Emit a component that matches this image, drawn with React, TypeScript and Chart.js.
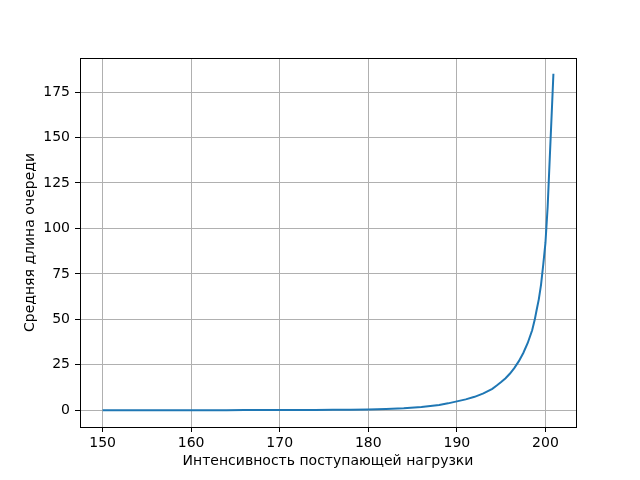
import React, { useEffect, useRef } from "react";
import { Chart, registerables } from "chart.js";

Chart.register(...registerables);

const lambdaValues: number[] = [
  150, 152, 154, 156, 158, 160, 162, 164, 166, 168, 170, 172, 174, 176, 178, 180,
  182, 184, 186, 187, 188, 189, 190, 191, 192, 193, 194, 194.5, 195, 195.5, 196, 196.5,
  197, 197.5, 198, 198.5, 198.8, 199, 199.25, 199.5, 199.75, 200, 200.25, 200.5,
  200.75, 200.9,
];
const queueLength: number[] = [
  0.01, 0.015, 0.02, 0.03, 0.04, 0.05, 0.06, 0.07, 0.09, 0.1, 0.12, 0.15, 0.18, 0.23, 0.32, 0.45,
  0.7, 1.1, 1.8, 2.3, 2.9, 3.8, 4.9, 6.0, 7.4, 9.3, 11.8, 13.6, 15.5, 17.6, 20.2, 23.3,
  27, 31.5, 37, 44, 50, 55, 61, 69, 80, 92, 112, 140,
  168, 185,
];
const xTicks: number[] = [150, 160, 170, 180, 190, 200];
const yTicks: number[] = [0, 25, 50, 75, 100, 125, 150, 175];

const xTitle = "Интенсивность поступающей нагрузки";
const yTitle = "Средняя длина очереди";

const FONT = "'DejaVu Sans', sans-serif";

const framePlugin = {
  id: "frame",
  afterDraw(chart: any) {
    const { ctx, chartArea } = chart;
    ctx.save();
    ctx.strokeStyle = "#000";
    ctx.lineWidth = 1;
    ctx.strokeRect(
      Math.round(chartArea.left) + 0.5,
      Math.round(chartArea.top) + 0.5,
      Math.round(chartArea.right - chartArea.left),
      Math.round(chartArea.bottom - chartArea.top)
    );
    ctx.restore();
  },
};

export default function App() {
  const ref = useRef<HTMLCanvasElement>(null);

  useEffect(() => {
    if (!ref.current) return;
    const points = lambdaValues.map((x, i) => ({ x, y: queueLength[i] }));
    const chart = new Chart(ref.current, {
      type: "line",
      data: {
        datasets: [
          {
            data: points,
            borderColor: "#1f77b4",
            borderWidth: 2,
            pointRadius: 0,
            fill: false,
            tension: 0,
          },
        ],
      },
      options: {
        responsive: false,
        animation: false,
        devicePixelRatio: 1,
        layout: { padding: { left: 0, top: 58, right: 64, bottom: 0 } },
        plugins: {
          legend: { display: false },
          tooltip: { enabled: false },
        },
        scales: {
          x: {
            type: "linear",
            min: 147.45,
            max: 203.45,
            afterBuildTicks: (scale: any) => {
              scale.ticks = xTicks.map((v) => ({ value: v }));
            },
            afterFit: (scale: any) => {
              scale.height = 53;
            },
            grid: {
              color: "#b0b0b0",
              lineWidth: 1,
              drawTicks: true,
              tickLength: 5,
              tickColor: "#000",
            },
            border: { display: true, color: "#000", width: 1 },
            ticks: {
              color: "#000",
              padding: 3,
              maxRotation: 0,
              font: { family: FONT, size: 14 },
            },
            title: {
              display: true,
              text: xTitle,
              color: "#000",
              font: { family: FONT, size: 14 },
              padding: { top: 0, bottom: 10 },
            },
          },
          y: {
            type: "linear",
            min: -9.2,
            max: 193.7,
            afterBuildTicks: (scale: any) => {
              scale.ticks = yTicks.map((v) => ({ value: v }));
            },
            afterFit: (scale: any) => {
              scale.width = 80;
            },
            grid: {
              color: "#b0b0b0",
              lineWidth: 1,
              drawTicks: true,
              tickLength: 5,
              tickColor: "#000",
            },
            border: { display: true, color: "#000", width: 1 },
            ticks: {
              color: "#000",
              padding: 5,
              font: { family: FONT, size: 14 },
            },
            title: {
              display: true,
              text: yTitle,
              color: "#000",
              font: { family: FONT, size: 14 },
              padding: { top: 22, bottom: 0 },
            },
          },
        },
      },
      plugins: [framePlugin],
    });
    return () => chart.destroy();
  }, []);

  return (
    <div style={{ position: "absolute", left: 0, top: 0, width: 640, height: 480, background: "#fff" }}>
      <canvas ref={ref} width={640} height={480} />
    </div>
  );
}
